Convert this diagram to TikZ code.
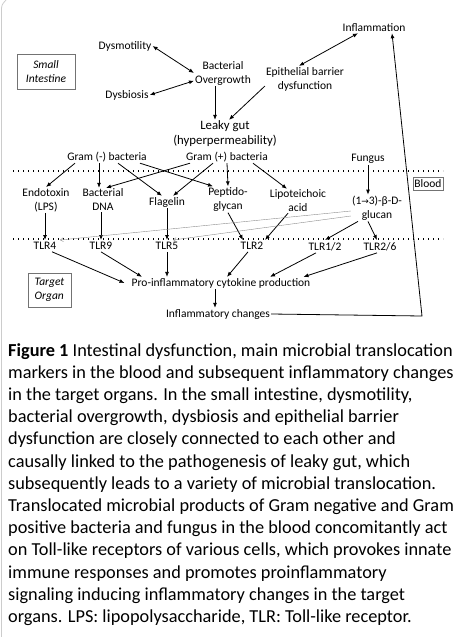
\documentclass[tikz,border=0pt]{standalone}
\usepackage{fontspec}
\setmainfont{Carlito}
\newfontfamily\symfont{DejaVu Sans}
\usetikzlibrary{arrows.meta,calc}

\begin{document}
\begin{tikzpicture}[x=1pt,y=-1pt]
\tikzset{lbl/.style={inner sep=1pt,align=center,font=\fontsize{11.5}{14}\selectfont},
  tlr/.style={lbl,anchor=north,inner sep=2pt},
  areabox/.style={draw=black!55,line width=0.6pt,inner sep=0pt,font=\fontsize{11.5}{14}\selectfont\itshape},
  arr/.style={-{Latex[length=5pt,width=4pt]},line width=0.8pt},
  biarr/.style={{Latex[length=5pt,width=4pt]}-{Latex[length=5pt,width=4pt]},line width=0.8pt},
  thinarr/.style={-{Straight Barb[length=3pt,width=4pt]},draw=black!45,line width=0.4pt},
  sep/.style={line width=1.4pt,dash pattern=on 1.4pt off 3.6pt}}
\useasboundingbox (0,0) rectangle (463,637);
\draw[black!20,line width=0.8pt] (1.5,637) -- (1.5,12) .. controls (1.5,5) .. (6,0);

% small intestine
\node[areabox,align=center,minimum width=58pt,minimum height=35pt] (smallint) at (46,71.5) {Small\\Intestine};
\node[lbl] (infl) at (374,28) {Inflammation};
\node[lbl] (dysmot) at (125,46) {Dysmotility};
\node[lbl] (bacov) at (223,73) {Bacterial\\Overgrowth};
\node[lbl] (epith) at (305,79) {Epithelial barrier\\dysfunction};
\node[lbl] (dysb) at (127,95) {Dysbiosis};
\node[lbl,font=\fontsize{12.8}{15}\selectfont] (leaky) at (225,134) {Leaky gut\\(hyperpermeability)};

\draw[biarr] (dysmot.east) -- (bacov.west);
\draw[biarr] (dysb.east) -- (bacov.195);
\draw[arr] ([xshift=-8pt]bacov.south) -- ([xshift=-10pt]leaky.north);
\draw[arr] (epith.190) -- ([xshift=4pt]leaky.north);
\draw[biarr] ([xshift=-16pt]infl.south) -- ([xshift=-6pt]epith.north);

% blood
\node[lbl] (gneg) at (107,157) {Gram (-) bacteria};
\node[lbl] (gpos) at (227,157) {Gram (+) bacteria};
\node[lbl] (fungus) at (368,159) {Fungus};
\draw[sep] (13,171) -- (443,171);
\node[areabox,font=\fontsize{11.5}{14}\selectfont,minimum width=30pt,minimum height=13pt] (blood) at (428,183.5) {Blood};

\node[lbl] (endo) at (46,200) {Endotoxin\\(LPS)};
\node[lbl] (dna) at (103,200) {Bacterial\\DNA};
\node[lbl] (flag) at (167,202) {Flagelin};
\node[lbl] (pept) at (228,199.5) {Peptido-\\glycan};
\node[lbl] (lipo) at (298,201) {Lipoteichoic\\acid};
\node[lbl] (glucan) at (377,208) {(1{\symfont\fontsize{9}{10}\selectfont→}3)-β-D-\\glucan};

\draw[arr] ([xshift=-32pt]gneg.south) -- (endo.north);
\draw[arr] ([xshift=-8pt]gneg.south) -- ([xshift=-4pt]dna.north);
\draw[arr] ([xshift=11pt]gneg.south) -- ([xshift=-5pt]flag.north);
\draw[arr] ([xshift=33pt]gneg.south) -- ([xshift=-15pt]pept.north);
\draw[arr] ([xshift=-37pt]gpos.south) -- ([xshift=3pt]dna.north);
\draw[arr] ([xshift=-14pt]gpos.south) -- ([xshift=6pt]flag.north);
\draw[arr] (gpos.south) -- (pept.north);
\draw[arr] ([xshift=26pt]gpos.south) -- ([xshift=-11pt]lipo.north);
\draw[arr] (fungus.south) -- (fungus.south |- glucan.north);

% receptors
\draw[sep] (13,239) -- (443,239);
\node[tlr] (tlr4) at (45,240) {TLR4};
\node[tlr] (tlr9) at (101,240) {TLR9};
\node[tlr] (tlr5) at (167,240) {TLR5};
\node[tlr] (tlr2) at (252,240) {TLR2};
\node[tlr] (tlr12) at (325,240) {TLR1/2};
\node[tlr] (tlr26) at (380,240) {TLR2/6};

\draw[arr] (endo.south -| tlr4.north) -- (tlr4.north);
\draw[arr] (dna.south -| tlr9.north) -- (tlr9.north);
\draw[arr] (flag.south) -- (tlr5.north);
\draw[arr] (pept.south) -- ([xshift=-9pt]tlr2.north);
\draw[arr] ([xshift=-10pt]lipo.south) -- ([xshift=13pt]tlr2.north);
\draw[thinarr] ([yshift=-3pt]glucan.west) -- ([xshift=15pt]tlr4.north);
\draw[thinarr] ([yshift=-8pt]glucan.west) -- ([xshift=6pt]tlr5.north);
\draw[arr] ([xshift=-19pt]glucan.south) -- (tlr12.north);
\draw[arr] ([xshift=-9pt]glucan.south) -- ([xshift=-3pt]tlr26.north);

% target organ
\node[areabox,align=left,minimum width=43pt,minimum height=34pt] (target) at (49.5,290) {Target\\Organ};
\node[lbl] (pro) at (221,283) {Pro-inflammatory cytokine production};
\node[lbl] (ichg) at (218,314) {Inflammatory changes};
\coordinate (corner) at (422,316);

\draw[arr] ([xshift=7pt]tlr4.south) -- ([xshift=-6pt]pro.west);
\draw[arr] (tlr9.south) -- ([xshift=-79pt]pro.north);
\draw[arr] (tlr5.south) -- (tlr5.south |- pro.north);
\draw[arr] ([xshift=-4pt]tlr2.south) -- ([xshift=6pt]pro.north);
\draw[arr] ([xshift=-9pt]tlr12.south) -- ([xshift=49pt]pro.north);
\draw[arr] ([xshift=-3pt]tlr26.south) -- ([xshift=-8pt]pro.north east);
\draw[arr] ([xshift=-6pt]pro.south) -- ([xshift=-3pt]ichg.north);
\draw[arr] (ichg.east) -- (corner) -- ([xshift=18pt]infl.south);

% caption
\node[anchor=north west,inner sep=0pt,align=left,font=\fontsize{18.3}{22.2}\selectfont] (caption) at (8,343) {%
\textbf{Figure 1} Intestinal dysfunction, main microbial translocation\\
markers in the blood and subsequent inflammatory changes\\
in the target organs. In the small intestine, dysmotility,\\
bacterial overgrowth, dysbiosis and epithelial barrier\\
dysfunction are closely connected to each other and\\
causally linked to the pathogenesis of leaky gut, which\\
subsequently leads to a variety of microbial translocation.\\
Translocated microbial products of Gram negative and Gram\\
positive bacteria and fungus in the blood concomitantly act\\
on Toll-like receptors of various cells, which provokes innate\\
immune responses and promotes proinflammatory\\
signaling inducing inflammatory changes in the target\\
organs. LPS: lipopolysaccharide, TLR: Toll-like receptor.};
\end{tikzpicture}
\end{document}
